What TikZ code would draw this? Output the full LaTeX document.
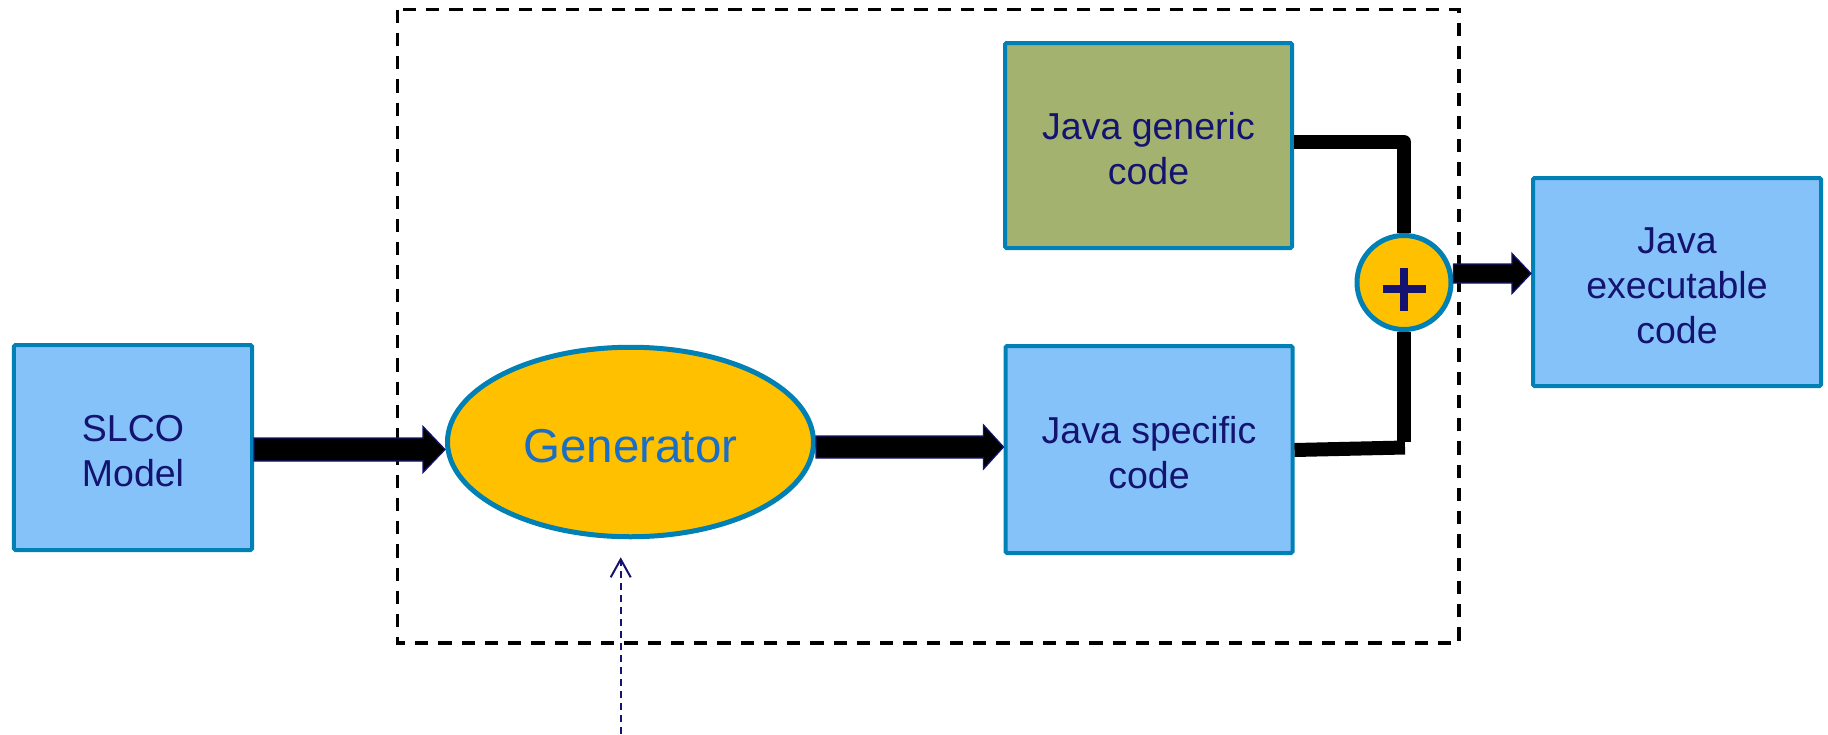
\documentclass[tikz,border=0pt]{standalone}
\usepackage{fontspec}
\setmainfont{Liberation Sans}
\usetikzlibrary{calc,arrows.meta,shapes.geometric}

\definecolor{navytext}{RGB}{20,20,112}
\definecolor{genblue}{RGB}{25,110,200}
\definecolor{edgeblue}{RGB}{0,128,180}
\definecolor{boxblue}{RGB}{134,194,250}
\definecolor{olivebox}{RGB}{163,178,111}
\definecolor{amber}{RGB}{255,192,0}

% taller first line, so the block of text sits a little low in its box
\newcommand\firstline{\rule{0pt}{13pt}}

% Block arrow from a start point to a tip point (horizontal):
% #1 start, #2 tip, #3 shaft half-width, #4 head half-width, #5 head length (pt)
\newcommand\blockarrow[5]{%
  \path[blockarr] let \p1=#1, \p2=#2 in
    (\x1,\y1+#3pt) -- (\x2-#5pt,\y1+#3pt) -- (\x2-#5pt,\y1+#4pt) --
    (\x2,\y1) --
    (\x2-#5pt,\y1-#4pt) -- (\x2-#5pt,\y1-#3pt) -- (\x1,\y1-#3pt) -- cycle;}

\begin{document}
\begin{tikzpicture}[x=0.4pt,y=-0.4pt,
  box/.style={rectangle, draw=edgeblue, line width=1.6pt, rounded corners=0.6pt,
    inner sep=0pt, align=center, text=navytext,
    font=\fontsize{15pt}{18pt}\selectfont},
  bluebox/.style={box, fill=boxblue},
  greenbox/.style={box, fill=olivebox},
  blockarr/.style={fill=black, draw=navytext, line width=0.5pt},
  wire/.style={line width=5.6pt, line join=round},
  frame/.style={line width=1.3pt, dash pattern=on 5.3pt off 4pt},
  feedline/.style={navytext, line width=0.8pt, dash pattern=on 2.8pt off 2pt,
    -{Straight Barb[length=7.2pt,width=8pt,line width=0.8pt]}},
]
\useasboundingbox (0,0) rectangle (1828,734);

% dashed frame round the generation stage
\draw[frame] (397.5,9.5) rectangle (1459,643);

% blocks
\node[bluebox, minimum width=95.2pt, minimum height=82pt] (slco) at (133,447.5) {\firstline SLCO\\Model};
\node[ellipse, draw=edgeblue, fill=amber, line width=2pt, inner sep=0pt,
      minimum width=146.4pt, minimum height=75.8pt, text=genblue,
      font=\fontsize{19pt}{22pt}\selectfont,
      execute at begin node={\rule{0pt}{16.4pt}}] (gen) at (630.5,442) {Generator};
\node[greenbox, minimum width=114.8pt, minimum height=82pt] (gjava) at (1148.5,145.5) {\firstline Java generic\\code};
\node[bluebox, minimum width=114.8pt, minimum height=82.8pt] (sjava) at (1149,449.5) {\firstline Java specific\\code};
\node[bluebox, minimum width=115.2pt, minimum height=83.2pt] (exec) at (1677,282) {\firstline Java\\executable\\code};
\node[circle, draw=edgeblue, fill=amber, line width=2pt, inner sep=0pt,
      minimum size=37.6pt] (sum) at (1404,282.5) {};

% plus sign in the summing junction
\draw[navytext, line width=3.2pt] ($(sum.center)+(-21.5,6.5)$) -- ($(sum.center)+(21.5,6.5)$);
\draw[navytext, line width=3.2pt] ($(sum.center)+(0,-14.5)$) -- ($(sum.center)+(0,28.5)$);

% wires into the junction
\draw[wire] ($(gjava.east)+(0,-3.5)$) -| (sum.north);
\coordinate (bend) at ($(sum.south)+(0,110)$);
\draw[wire] (sum.south) -- (bend);
\draw[wire] ($(sjava.east)+(0,0.5)$) -- ($(bend)+(1,5.5)$);

% block arrows
\blockarrow{($(slco.east)+(0,2)$)}{(gen.west)}{4.6}{9.2}{8.8}
\blockarrow{($(gen.east)+(0,5)$)}{(sjava.west)}{4.4}{8.8}{8}
\blockarrow{($(sum.east)+(0,-9)$)}{(exec.west)}{3.8}{8}{7.6}

% dashed input to the generator
\coordinate (feed) at (620.7,734);
\draw[feedline] (feed) -- ($(feed |- gen.south)+(0,18)$);
\end{tikzpicture}
\end{document}
